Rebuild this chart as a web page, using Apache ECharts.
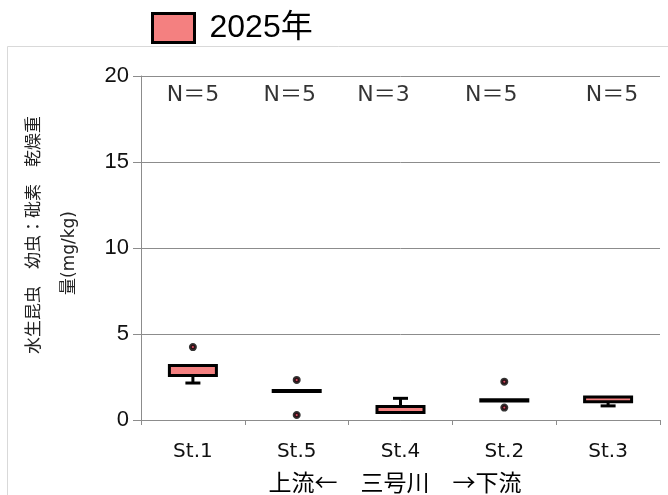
<!DOCTYPE html>
<html>
<head>
<meta charset="utf-8">
<script src="https://cdn.jsdelivr.net/npm/echarts@6/dist/echarts.min.js"></script>
<style>html,body{margin:0;padding:0;background:#fff}#c{width:668px;height:495px}</style>
</head>
<body>
<div id="c"></div>
<script>
var categories = ['St.1', 'St.5', 'St.4', 'St.2', 'St.3'];
var minVals = [2.15, 1.65, 0.44, 1.11, 0.82];
var q1Vals  = [2.59, 1.65, 0.44, 1.11, 1.06];
var q3Vals  = [3.17, 1.72, 0.78, 1.18, 1.34];
var maxVals = [3.17, 1.72, 1.26, 1.18, 1.34];
var outliers = [[0, 4.24], [1, 2.33], [1, 0.29], [3, 2.23], [3, 0.72]];
var nLabels = ['N＝5', 'N＝5', 'N＝3', 'N＝5', 'N＝5'];
var yTicks = [0, 5, 10, 15, 20];
var seriesName = '2025年';
var yTitle1 = '水生昆虫　幼虫：砒素　乾燥重';
var yTitle2 = '量(mg/kg)';
var xTitle = '上流←　三号川　→下流';

var boxData = categories.map(function (c, i) {
  return [i, minVals[i], q1Vals[i], q3Vals[i], maxVals[i]];
});
var nOffsets = [0, -7, -17, -13, 4];
var nData = nLabels.map(function (t, i) {
  return { value: [i, 18.9], label: { formatter: t, offset: [nOffsets[i], 0] } };
});

var PINK = '#F48080';
var CJK = '"Noto Sans CJK JP", sans-serif';
var LAT = '"DejaVu Sans", "Noto Sans CJK JP", sans-serif';

var chart = echarts.init(document.getElementById('c'), null, { renderer: 'canvas' });
chart.setOption({
  animation: false,
  backgroundColor: '#fff',
  graphic: [
    { type: 'rect', z: -10, silent: true, shape: { x: 7.5, y: 46.5, width: 700, height: 500 },
      style: { fill: 'none', stroke: '#d9d9d9', lineWidth: 1 } },
    { type: 'text', silent: true,
      position: [33, 235], rotation: Math.PI / 2,
      style: { text: yTitle1, font: '17px ' + CJK, fill: '#222', textAlign: 'center', textVerticalAlign: 'middle' } },
    { type: 'text', silent: true,
      position: [70, 253], rotation: Math.PI / 2,
      style: { text: yTitle2, font: '17px ' + LAT, fill: '#222', textAlign: 'center', textVerticalAlign: 'middle' } },
    { type: 'text', silent: true, position: [395, 482],
      style: { text: xTitle, font: '23px ' + CJK, fill: '#000', textAlign: 'center', textVerticalAlign: 'middle' } }
  ],
  legend: {
    left: 151, top: 12, padding: 0,
    itemWidth: 42, itemHeight: 29, itemGap: 10,
    textStyle: { fontSize: 32, color: '#000', padding: [0, 0, 0, 10],
      fontFamily: '"Liberation Sans", "Noto Sans CJK JP", sans-serif' },
    data: [{ name: seriesName, icon: 'rect', itemStyle: { color: PINK, borderColor: '#000', borderWidth: 3 } }]
  },
  grid: { left: 141, right: 8, top: 76, bottom: 75, containLabel: false },
  xAxis: {
    type: 'category', data: categories,
    axisLine: { lineStyle: { color: '#8c8c8c', width: 1 } },
    axisTick: { show: true, length: 5, lineStyle: { color: '#8c8c8c' } },
    axisLabel: { fontSize: 20, color: '#111', margin: 22, fontFamily: LAT },
    splitLine: { show: false }
  },
  yAxis: {
    type: 'value', min: 0, max: 20, interval: 5,
    axisLine: { show: true, lineStyle: { color: '#8c8c8c', width: 1 } },
    axisTick: { show: true, length: 8, lineStyle: { color: '#8c8c8c' } },
    axisLabel: { fontSize: 22, color: '#111', margin: 12, fontFamily: '"Liberation Sans", sans-serif',
      formatter: function (v) { return yTicks.indexOf(v) >= 0 ? String(v) : ''; } },
    splitLine: { show: true, lineStyle: { color: '#8c8c8c', width: 1 } }
  },
  series: [
    {
      name: seriesName, type: 'custom', itemStyle: { color: PINK },
      data: boxData,
      encode: { x: 0, y: [1, 2, 3, 4] },
      renderItem: function (params, api) {
        var x = api.value(0);
        var mn = api.value(1), q1 = api.value(2), q3 = api.value(3), mx = api.value(4);
        var pMin = api.coord([x, mn]), pQ1 = api.coord([x, q1]);
        var pQ3 = api.coord([x, q3]), pMax = api.coord([x, mx]);
        var cx = pQ1[0];
        var bw = 47, cw = 15;
        var ls = { stroke: '#000', lineWidth: 3, fill: null };
        var ch = [];
        if (mx > q3) {
          ch.push({ type: 'line', shape: { x1: cx, y1: pQ3[1], x2: cx, y2: pMax[1] }, style: ls });
          ch.push({ type: 'line', shape: { x1: cx - cw / 2, y1: pMax[1], x2: cx + cw / 2, y2: pMax[1] }, style: ls });
        }
        if (mn < q1) {
          ch.push({ type: 'line', shape: { x1: cx, y1: pQ1[1], x2: cx, y2: pMin[1] }, style: ls });
          ch.push({ type: 'line', shape: { x1: cx - cw / 2, y1: pMin[1], x2: cx + cw / 2, y2: pMin[1] }, style: ls });
        }
        ch.push({ type: 'rect', shape: { x: cx - bw / 2, y: pQ3[1], width: bw, height: pQ1[1] - pQ3[1] },
          style: { fill: PINK, stroke: '#000', lineWidth: 3 } });
        return { type: 'group', children: ch };
      }
    },
    {
      name: 'outlier', type: 'scatter', data: outliers,
      symbol: 'circle', symbolSize: 5,
      itemStyle: { color: '#d0203c', borderColor: '#000', borderWidth: 3 },
      z: 5
    },
    {
      name: 'N', type: 'scatter', data: nData, symbolSize: 0,
      label: { show: true, position: 'inside', fontSize: 22, color: '#000', fontFamily: LAT }
    }
  ]
});
</script>
</body>
</html>
